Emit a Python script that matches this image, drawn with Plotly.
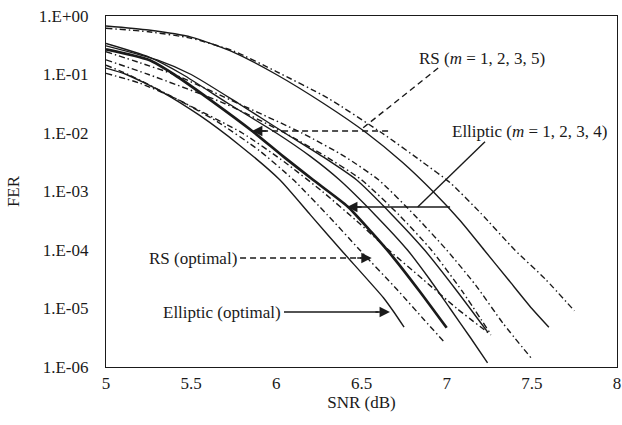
import plotly.graph_objects as go

# ---- data (SNR in dB, log10 FER) ----
# Elliptic (solid) curves
snr_s1 = [5.0, 5.25, 5.5, 5.75, 6.0, 6.28, 6.53, 6.74, 6.92, 7.08, 7.22, 7.36, 7.5, 7.6]
lg_s1 = [-0.17, -0.24, -0.36, -0.62, -1.0, -1.5, -2.0, -2.5, -3.0, -3.5, -4.0, -4.5, -5.0, -5.32]
snr_s2 = [5.0, 5.25, 5.45, 5.72, 6.0, 6.2, 6.37, 6.58, 6.77, 6.9, 7.02, 7.14, 7.24]
lg_s2 = [-0.47, -0.7, -1.0, -1.5, -2.0, -2.4, -2.8, -3.4, -4.0, -4.5, -5.0, -5.5, -5.93]
snr_s3 = [5.0, 5.3, 5.5, 5.78, 6.05, 6.27, 6.47, 6.68, 6.87, 7.06, 7.24]
lg_s3 = [-0.51, -0.75, -1.0, -1.5, -2.0, -2.4, -2.8, -3.4, -4.0, -4.7, -5.4]
snr_s4 = [5.0, 5.25, 5.4, 5.62, 5.86, 6.04, 6.215, 6.42, 6.56, 6.685, 6.84, 7.0]
lg_s4 = [-0.57, -0.75, -1.0, -1.45, -1.97, -2.4, -2.8, -3.26, -3.7, -4.12, -4.7, -5.33]
snr_s5 = [5.0, 5.12, 5.33, 5.55, 5.78, 6.02, 6.2, 6.38, 6.63, 6.69, 6.75]
lg_s5 = [-0.89, -1.0, -1.3, -1.7, -2.2, -2.8, -3.4, -4.0, -4.82, -5.06, -5.32]
# RS (dash-dot) curves
snr_d1 = [5.0, 5.25, 5.5, 5.75, 6.0, 6.3, 6.62, 6.86, 7.02, 7.2, 7.4, 7.58, 7.75]
lg_d1 = [-0.21, -0.27, -0.38, -0.6, -0.95, -1.4, -2.0, -2.5, -2.85, -3.37, -4.0, -4.5, -5.04]
snr_d2 = [5.0, 5.2, 5.4, 5.78, 6.15, 6.4, 6.6, 6.81, 7.0, 7.17, 7.33, 7.5]
lg_d2 = [-0.61, -0.8, -1.0, -1.5, -2.0, -2.4, -2.8, -3.4, -4.0, -4.6, -5.25, -5.86]
snr_d3 = [5.0, 5.25, 5.7, 6.05, 6.29, 6.5, 6.72, 6.91, 7.09, 7.25]
lg_d3 = [-0.75, -1.0, -1.5, -2.0, -2.4, -2.8, -3.4, -4.0, -4.7, -5.4]
snr_d4 = [5.0, 5.13, 5.47, 5.8, 6.05, 6.27, 6.47, 6.66, 6.86, 7.06, 7.26]
lg_d4 = [-0.84, -1.0, -1.5, -2.0, -2.5, -3.0, -3.5, -4.0, -4.5, -5.0, -5.45]
snr_d5 = [5.0, 5.2, 5.4, 5.65, 5.9, 6.1, 6.3, 6.49, 6.71, 6.87, 6.985]
lg_d5 = [-0.98, -1.15, -1.4, -1.8, -2.3, -2.8, -3.4, -4.0, -4.68, -5.2, -5.57]

y_tickvals = [1, 1e-1, 1e-2, 1e-3, 1e-4, 1e-5, 1e-6]
y_ticktext = ["1.E+00", "1.E-01", "1.E-02", "1.E-03", "1.E-04", "1.E-05", "1.E-06"]
x_tickvals = [5, 5.5, 6, 6.5, 7, 7.5, 8]
x_ticktext = ["5", "5.5", "6", "6.5", "7", "7.5", "8"]

DASHDOT = "6px,3px,1.5px,3px"
INK = "#1a1a1a"
FONT = "Liberation Serif"


def fer(lg):
    return [10 ** v for v in lg]


fig = go.Figure()
solid = [(snr_s1, lg_s1, 1.4), (snr_s2, lg_s2, 1.4), (snr_s3, lg_s3, 1.4),
         (snr_s4, lg_s4, 2.7), (snr_s5, lg_s5, 1.4)]
dashed = [(snr_d1, lg_d1), (snr_d2, lg_d2), (snr_d3, lg_d3), (snr_d4, lg_d4), (snr_d5, lg_d5)]
for xs, lg, w in solid:
    fig.add_trace(go.Scatter(x=xs, y=fer(lg), mode="lines",
                             line=dict(color=INK, width=w, shape="spline", smoothing=0.6),
                             showlegend=False, hoverinfo="skip"))
for xs, lg in dashed:
    fig.add_trace(go.Scatter(x=xs, y=fer(lg), mode="lines",
                             line=dict(color=INK, width=1.4, dash=DASHDOT, shape="spline", smoothing=0.6),
                             showlegend=False, hoverinfo="skip"))

# leader lines of the labels
leaders = [
    ([6.95, 6.51], [-0.89, -1.91], "6px,4px", 1.4),
    ([6.656, 5.9], [-1.966, -1.966], "6px,4px", 1.4),
    ([7.225, 6.83], [-2.15, -3.265], "solid", 1.4),
    ([7.02, 6.47], [-3.265, -3.265], "solid", 1.6),
    ([5.787, 6.5], [-4.137, -4.137], "6px,4px", 1.4),
    ([6.045, 6.6], [-5.06, -5.06], "solid", 1.6),
]
for xs, lg, d, w in leaders:
    fig.add_trace(go.Scatter(x=xs, y=fer(lg), mode="lines", line=dict(color=INK, width=w, dash=d),
                             showlegend=False, hoverinfo="skip"))

# arrow heads: (tip x, tip log10 y, tail offset in px)
arrows = [(5.857, -1.966, 16), (6.415, -3.265, 16), (6.56, -4.137, -16), (6.667, -5.06, -16)]
for ax_, ay_, off in arrows:
    fig.add_annotation(x=ax_, y=ay_, xref="x", yref="y", text="", showarrow=True,
                       ax=off, ay=0, arrowhead=2, arrowsize=1.3, arrowwidth=1.6, arrowcolor=INK)

labels = [
    (7.21, -0.72, "RS (<i>m</i> = 1, 2, 3, 5)", "center"),
    (7.49, -1.98, "Elliptic (<i>m</i> = 1, 2, 3, 4)", "center"),
    (5.78, -4.14, "RS (optimal)", "right"),
    (6.04, -5.06, "Elliptic (optimal)", "right"),
]
for x, y, t, a in labels:
    fig.add_annotation(x=x, y=y, xref="x", yref="y", text=t, showarrow=False, xanchor=a,
                       font=dict(family=FONT, size=17, color=INK))

fig.update_layout(
    width=622, height=425,
    margin=dict(l=106, r=5, t=16, b=58),
    paper_bgcolor="white", plot_bgcolor="white",
    font=dict(family=FONT, size=17, color=INK),
    xaxis=dict(range=[5, 8], tickvals=x_tickvals, ticktext=x_ticktext, showgrid=False, zeroline=False,
               showline=True, linecolor=INK, linewidth=1.2, mirror=True, ticks="", automargin=False,
               tickfont=dict(size=17), ticklabelstandoff=0, ticklabeloverflow="allow",
               title=dict(text="SNR (dB)", font=dict(size=17), standoff=4)),
    yaxis=dict(type="log", range=[-6, 0], tickvals=y_tickvals, ticktext=y_ticktext, showgrid=False,
               zeroline=False, showline=True, linecolor=INK, linewidth=1.2, mirror=True, ticks="",
               automargin=False, tickfont=dict(size=17), ticklabelstandoff=13, ticklabeloverflow="allow",
               title=dict(text="FER", font=dict(size=17), standoff=14)),
)
# remove the default page margin so the figure fills the window exactly
fig.write_html("out.html", config=dict(displayModeBar=False),
               post_script="document.body.style.margin='0';document.body.style.overflow='hidden';")
